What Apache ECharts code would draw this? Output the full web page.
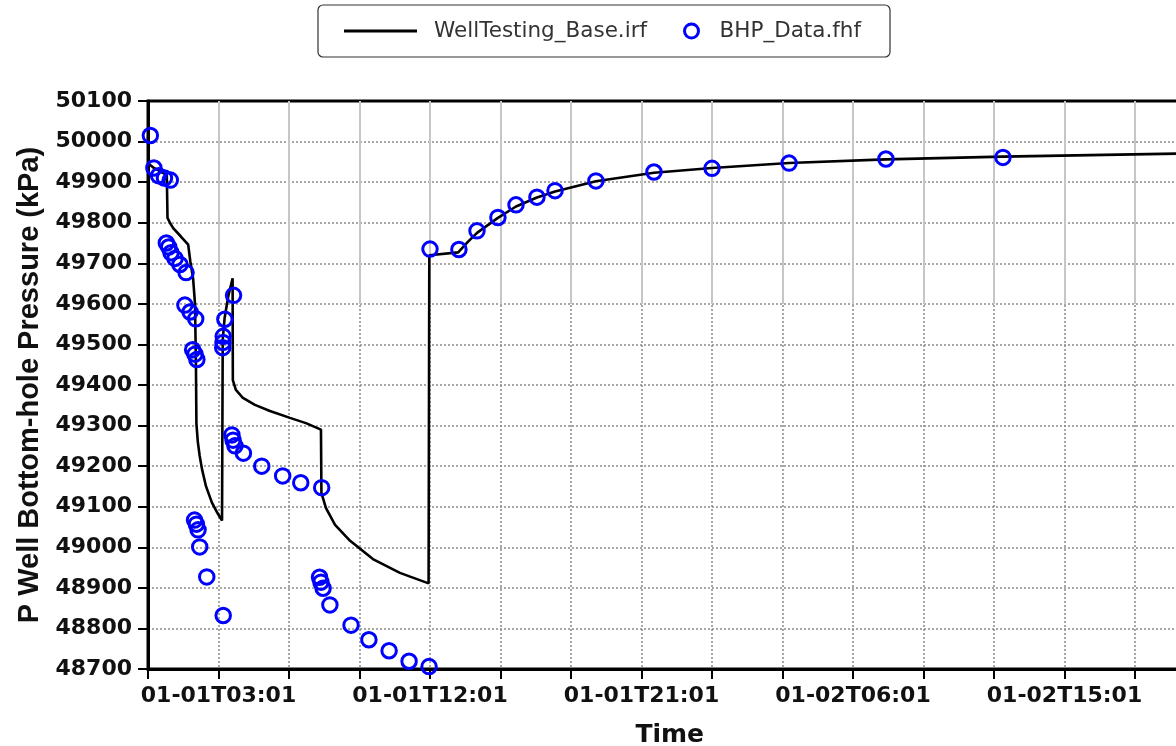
<!DOCTYPE html>
<html>
<head>
<meta charset="utf-8">
<script src="https://cdn.jsdelivr.net/npm/echarts@6/dist/echarts.min.js"></script>
<style>
  html, body { margin: 0; padding: 0; background: #ffffff; overflow: hidden; }
  /* the plot runs past the right edge of the window, so the canvas is a little wider */
  #chart { width: 1200px; height: 746px; }
</style>
</head>
<body>
<div id="chart"></div>
<script>
// Simulated bottom-hole pressure: hours after 01-01T00:01, pressure in kPa
const simHours = [
  0, 0.04, 0.25, 0.5, 0.8, 0.83, 0.95, 1.08, 1.4, 1.71,
  1.8, 1.92, 2.0, 2.04, 2.06, 2.12, 2.2, 2.3, 2.47, 2.72,
  2.95, 3.15, 3.17, 3.18, 3.26, 3.42, 3.6, 3.61, 3.74, 4.04,
  4.55, 5.19, 6.04, 6.72, 7.36, 7.38, 7.57, 7.96, 8.6, 9.57,
  10.72, 11.94, 11.97, 13.2, 13.6, 14.0, 14.89, 15.66, 16.55, 17.32,
  19.06, 21.53, 24.0, 27.28, 31.4, 36.38, 44.4
];
const simPressure = [
  50012, 49945, 49935, 49927, 49917, 49812, 49798, 49786, 49766, 49746,
  49705, 49662, 49600, 49450, 49305, 49260, 49225, 49192, 49150, 49110,
  49085, 49066, 49068, 49512, 49565, 49620, 49663, 49412, 49388, 49368,
  49351, 49336, 49319, 49306, 49290, 49134, 49097, 49055, 49016, 48971,
  48937, 48911, 49720, 49727, 49752, 49775, 49812, 49840, 49862, 49877,
  49902, 49923, 49935, 49947, 49956, 49963, 49971
];

// Measured BHP samples
const obsHours = [
  0.1, 0.25, 0.45, 0.7, 0.95,
  0.78, 0.88, 0.98, 1.15, 1.36, 1.62,
  1.57, 1.79, 2.03,
  1.9, 2.0, 2.08,
  1.98, 2.06, 2.13, 2.2, 2.5, 3.2,
  3.18, 3.19, 3.2, 3.27, 3.64,
  3.57, 3.62, 3.7, 4.06, 4.84, 5.73, 6.5, 7.39,
  7.3, 7.36, 7.45, 7.74, 8.64, 9.4, 10.26, 11.11, 11.96,
  12.0, 13.23, 14.0, 14.89, 15.66, 16.55, 17.32, 19.06, 21.53, 24.0,
  27.28, 31.4, 36.38
];
const obsPressure = [
  50015, 49935, 49916, 49910, 49905,
  49750, 49740, 49726, 49712, 49697, 49677,
  49597, 49580, 49563,
  49487, 49476, 49463,
  49067, 49057, 49043, 49001, 48927, 48832,
  49492, 49505, 49520, 49562, 49621,
  49277, 49264, 49250, 49232, 49200, 49176, 49159, 49147,
  48926, 48914, 48899, 48858, 48808, 48772, 48745, 48719, 48706,
  49735, 49734, 49780, 49813, 49844, 49863, 49879, 49903, 49925, 49934,
  49947, 49957, 49961
];

// Time axis labels (hours after 01-01T00:01)
const tickHours = [3, 12, 21, 30, 39];
const tickLabels = ['01-01T03:01', '01-01T12:01', '01-01T21:01', '01-02T06:01', '01-02T15:01'];

const simData = simHours.map((h, i) => [h, simPressure[i]]);
const obsData = obsHours.map((h, i) => [h, obsPressure[i]]);

function timeLabel(v) {
  const i = tickHours.indexOf(Math.round(v * 1000) / 1000);
  return i >= 0 ? tickLabels[i] : '';
}

const boldAxisFont = { fontFamily: 'DejaVu Sans', fontWeight: 'bold', fontSize: 22, color: '#111' };
const dottedGrid = { type: [2, 2], color: '#8a8a8a', width: 1.5 };

const chart = echarts.init(document.getElementById('chart'), null, { renderer: 'canvas' });
chart.setOption({
  animation: false,
  backgroundColor: '#ffffff',
  graphic: [{
    type: 'rect',
    silent: true,
    shape: { x: 318, y: 5, width: 572, height: 52, r: 5 },
    style: { fill: 'none', stroke: '#333', lineWidth: 1.2 }
  }],
  legend: [
    {
      data: [{ name: 'WellTesting_Base.irf', icon: 'rect' }],
      left: 344, top: 19, padding: 0,
      itemWidth: 73, itemHeight: 3,
      selectedMode: false,
      textStyle: { fontFamily: 'DejaVu Sans', fontSize: 21.5, color: '#333', lineHeight: 24, padding: [0, 0, 0, 12] }
    },
    {
      data: [{ name: 'BHP_Data.fhf', icon: 'circle',
               itemStyle: { color: 'rgba(0,0,0,0)', borderColor: '#0000ff', borderWidth: 3 } }],
      left: 683, top: 19, padding: 0,
      itemWidth: 14, itemHeight: 14,
      selectedMode: false,
      textStyle: { fontFamily: 'DejaVu Sans', fontSize: 21.5, color: '#333', lineHeight: 24, padding: [0, 0, 0, 16] }
    }
  ],
  grid: [
    { left: 148, top: 101, width: 1043.4, height: 568, show: true, borderColor: '#000', borderWidth: 3,
      containLabel: false, outerBoundsMode: 'none' },
    { left: 148, top: 101, width: 1043.4, height: 203, containLabel: false, outerBoundsMode: 'none' }
  ],
  xAxis: [
    {
      gridIndex: 0, type: 'value', min: 0, max: 44.4, interval: 3,
      name: 'Time', nameLocation: 'middle', nameGap: 54,
      nameTextStyle: { fontFamily: 'DejaVu Sans', fontWeight: 'bold', fontSize: 25, color: '#111' },
      axisLine: { show: true, onZero: false, lineStyle: { color: '#000', width: 3 } },
      axisTick: { show: true, length: 10, lineStyle: { color: '#000', width: 2 } },
      axisLabel: Object.assign({ margin: 16, formatter: timeLabel, showMinLabel: true, showMaxLabel: true }, boldAxisFont),
      splitLine: { show: true, showMinLine: false, lineStyle: dottedGrid }
    },
    {
      gridIndex: 1, type: 'value', min: 0, max: 44.4, interval: 3,
      axisLine: { show: false }, axisTick: { show: false }, axisLabel: { show: false },
      splitLine: { show: true, showMinLine: false, lineStyle: { color: '#c6c6c6', width: 2 } }
    }
  ],
  yAxis: [
    {
      gridIndex: 0, type: 'value', min: 48700, max: 50100, interval: 100,
      name: 'P Well Bottom-hole Pressure (kPa)', nameLocation: 'middle', nameGap: 102, nameRotate: 90,
      nameTextStyle: { fontFamily: 'Liberation Sans', fontWeight: 'bold', fontSize: 29, color: '#111' },
      axisLine: { show: true, onZero: false, lineStyle: { color: '#000', width: 3 } },
      axisTick: { show: true, length: 10, lineStyle: { color: '#000', width: 2 } },
      axisLabel: Object.assign({ margin: 16, formatter: v => String(v) }, boldAxisFont),
      splitLine: { show: true, showMinLine: false, showMaxLine: false, lineStyle: dottedGrid }
    },
    {
      gridIndex: 1, type: 'value', min: 49600, max: 50100, interval: 100, show: false,
      splitLine: { show: false }
    }
  ],
  series: [
    {
      name: 'WellTesting_Base.irf',
      type: 'line',
      xAxisIndex: 0, yAxisIndex: 0,
      data: simData,
      showSymbol: false, symbol: 'none',
      lineStyle: { color: '#000', width: 2.6 },
      itemStyle: { color: '#000' },
      z: 3
    },
    {
      name: 'BHP_Data.fhf',
      type: 'scatter',
      xAxisIndex: 0, yAxisIndex: 0,
      data: obsData,
      symbol: 'circle', symbolSize: 14.5,
      itemStyle: { color: 'rgba(0,0,0,0)', borderColor: '#0000ff', borderWidth: 3, opacity: 1 },
      z: 4
    }
  ]
});
</script>
</body>
</html>
